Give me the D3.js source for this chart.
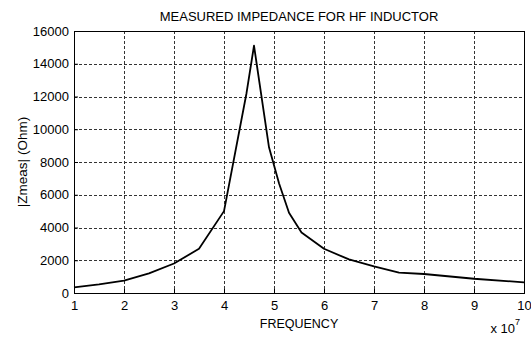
<!DOCTYPE html>
<html lang="en">
<head>
  <meta charset="UTF-8">
  <title>Measured impedance for HF inductor</title>
  <style type="text/css">
    body{
      margin: 0;
      background: #fff;
      font-family: Arial, "Liberation Sans", sans-serif;
    }
    .axis text{
      font-size: 13px;
      fill: #000;
    }
    .label{
      font-size: 12.5px;
      fill: #000;
    }
    .grid line{
      stroke: #333;
      stroke-width: 1px;
      stroke-dasharray: 3,2;
      shape-rendering: crispEdges;
    }
  </style>
  <script type="text/javascript" src="https://d3js.org/d3.v7.min.js"></script>
</head>
<body>
<script type="text/javascript">
  // measured points (frequency in Hz, |Z| in Ohm)
  var freq = [1.0e7, 1.5e7, 2.0e7, 2.5e7, 3.0e7, 3.5e7, 4.0e7, 4.45e7, 4.6e7, 4.9e7,
              5.1e7, 5.3e7, 5.55e7, 6.0e7, 6.5e7, 7.0e7, 7.5e7, 8.0e7, 9.0e7, 1.0e8];
  var zmeas = [350, 530, 750, 1200, 1800, 2700, 5000, 12200, 15100, 8900,
               6700, 4900, 3700, 2700, 2050, 1620, 1250, 1160, 870, 650];
  var xTicks = [1, 2, 3, 4, 5, 6, 7, 8, 9, 10];
  var yTicks = [0, 2000, 4000, 6000, 8000, 10000, 12000, 14000, 16000];

  var W = 531, H = 338;
  var margin = {top: 31, right: 7, bottom: 45, left: 74};
  var width = W - margin.left - margin.right;
  var height = H - margin.top - margin.bottom;

  var svg = d3.select('body')
    .append('svg')
    .attr('width', W)
    .attr('height', H)
  .append('g')
    .attr('transform', 'translate(' + margin.left + ',' + margin.top + ')');

  var xScale = d3.scaleLinear().domain([1e7, 1e8]).range([0, width]);
  var yScale = d3.scaleLinear().domain([0, 16000]).range([height, 0]);

  // grid
  svg.append('g').attr('class', 'grid')
    .selectAll('line')
    .data(xTicks.slice(1, -1))
    .enter().append('line')
    .attr('x1', function(d){ return Math.round(xScale(d * 1e7)) + 0.5; })
    .attr('x2', function(d){ return Math.round(xScale(d * 1e7)) + 0.5; })
    .attr('y1', 0)
    .attr('y2', height);

  svg.append('g').attr('class', 'grid')
    .selectAll('line')
    .data(yTicks.slice(1, -1))
    .enter().append('line')
    .attr('y1', function(d){ return Math.round(yScale(d)) + 0.5; })
    .attr('y2', function(d){ return Math.round(yScale(d)) + 0.5; })
    .attr('x1', 0)
    .attr('x2', width);

  var xAxis = d3.axisBottom(xScale)
    .tickValues(xTicks.map(function(d){ return d * 1e7; }))
    .tickFormat(function(d){ return d / 1e7; })
    .tickSize(-4)
    .tickPadding(8);

  var yAxis = d3.axisLeft(yScale)
    .tickValues(yTicks)
    .tickFormat(d3.format('d'))
    .tickSize(-4)
    .tickPadding(5);

  svg.append('g')
    .attr('class', 'x axis')
    .attr('transform', 'translate(0,' + height + ')')
    .call(xAxis);

  svg.append('g')
    .attr('class', 'y axis')
    .call(yAxis);

  svg.selectAll('.axis .domain').remove();
  svg.selectAll('.axis line').attr('stroke', '#000');

  // box
  svg.append('rect')
    .attr('x', 0.5)
    .attr('y', 0.5)
    .attr('width', width)
    .attr('height', height)
    .attr('fill', 'none')
    .attr('stroke', '#000')
    .attr('stroke-width', 1);

  var line = d3.line()
    .x(function(d, i){ return xScale(freq[i]); })
    .y(function(d){ return yScale(d); });

  svg.append('path')
    .datum(zmeas)
    .attr('d', line)
    .attr('fill', 'none')
    .attr('stroke', '#000')
    .attr('stroke-width', 1.8)
    .attr('stroke-linejoin', 'round');

  // title & labels
  svg.append('text')
    .attr('class', 'label')
    .attr('x', width / 2)
    .attr('y', -10)
    .attr('text-anchor', 'middle')
    .style('font-size', '13px')
    .text('MEASURED IMPEDANCE FOR HF INDUCTOR');

  svg.append('text')
    .attr('class', 'label')
    .attr('x', width / 2)
    .attr('y', height + 35)
    .attr('text-anchor', 'middle')
    .text('FREQUENCY');

  svg.append('text')
    .attr('class', 'label')
    .attr('transform', 'translate(' + (-47) + ',' + (height / 2) + ') rotate(-90)')
    .attr('text-anchor', 'middle')
    .style('font-size', '13.5px')
    .text('|Zmeas| (Ohm)');

  var exp = svg.append('text')
    .attr('class', 'label')
    .attr('x', width - 4)
    .attr('y', height + 40)
    .attr('text-anchor', 'end')
    .style('font-size', '13px');
  exp.append('tspan').text('x 10');
  exp.append('tspan')
    .attr('dy', -8)
    .style('font-size', '9px')
    .text('7');
</script>
</body>
</html>
